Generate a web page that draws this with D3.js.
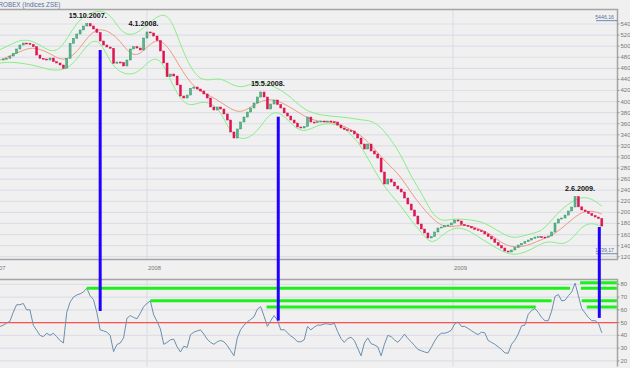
<!DOCTYPE html>
<html>
<head>
<meta charset="utf-8">
<script src="https://cdn.jsdelivr.net/npm/d3@7"></script>
<style>
  body { margin: 0; background: #f0f0f0; }
  svg { display: block; font-family: "Liberation Sans", Arial, sans-serif; }
</style>
</head>
<body>
<svg></svg>
<script>
// ROBEX daily, sampled every 4 days
const startDate = "2007-07-09";
const stepDays = 4;
const closes = [
  4762, 4768, 4781, 4822, 4871, 4949, 5021, 5057, 5052, 5030,
  4990, 4840, 4781, 4768, 4750, 4786, 4720, 4696, 4660, 4600,
  4781, 5052, 5142, 5220, 5292, 5364, 5409, 5364, 5310, 5247,
  5093, 5021, 4985, 4961, 4691, 4714, 4705, 4642, 4750, 4949,
  4990, 4966, 4931, 5147, 5256, 5238, 5183, 5102, 4913, 4696,
  4449, 4497, 4461, 4299, 4100, 4064, 4118, 4239, 4263, 4227,
  4191, 4137, 4064, 3902, 3848, 3902, 3866, 3776, 3667, 3451,
  3342, 3505, 3631, 3721, 3811, 3884, 3974, 4082, 4172, 4082,
  3866, 3956, 4028, 3947, 3884, 3794, 3739, 3667, 3613, 3541,
  3523, 3550, 3721, 3631, 3622, 3636, 3649, 3631, 3649, 3636,
  3631, 3577, 3523, 3496, 3478, 3469, 3415, 3342, 3234, 3144,
  3234, 3108, 3054, 2981, 2729, 2512, 2602, 2548, 2476, 2422,
  2368, 2259, 2151, 2043, 1934, 1790, 1700, 1628, 1538, 1565,
  1646, 1718, 1736, 1763, 1772, 1808, 1862, 1844, 1781, 1763,
  1745, 1718, 1691, 1673, 1651, 1610, 1565, 1520, 1457, 1403,
  1357, 1303, 1285, 1321, 1366, 1411, 1438, 1471, 1501, 1532,
  1555, 1561, 1555, 1550, 1573, 1646, 1808, 1880, 1898, 1952,
  2025, 2097, 2283, 2100, 2043, 2016, 1980, 1943, 1916, 1889,
  1754
];
const rsi = [
  46.9, 48, 49.5, 51, 58, 64, 64, 65, 60, 60,
  48, 44, 40, 39, 41.7, 40, 41.7, 39, 36, 34,
  58, 66, 70, 71.6, 72.5, 74, 76.9, 71, 68, 58,
  44.3, 43.5, 42.5, 40, 27.3, 32.8, 34, 38, 53.4, 55.5,
  54, 53, 57.3, 62.5, 65, 67, 56, 51, 45, 33,
  34.5, 36.5, 37, 31, 27, 31.5, 30.5, 40.5, 42.5, 43.5,
  44.3, 41, 37, 34.5, 33, 35, 36, 35, 32, 28,
  24, 38, 44.5, 48, 50.5, 52.5, 54.5, 60.5, 62.5, 55,
  47, 51.5, 55.5, 52, 44.3, 44.5, 42, 39.5, 37.8, 35,
  35, 36.5, 47, 44.3, 46.5, 48, 48, 49, 49, 48.5,
  49.5, 43, 37.5, 34.5, 37.5, 38.5, 36, 30, 24, 34,
  38, 33.5, 32.5, 31, 24, 33, 40, 39, 36.5, 34.5,
  37.5, 41, 37.5, 35, 32, 29, 28, 27, 26.3, 30.5,
  35.5, 39.5, 41.7, 41.7, 42.5, 44, 49, 50.5, 47, 47,
  45.5, 43.7, 42, 40.6, 42.5, 42, 36, 34.5, 33, 31,
  29, 26.3, 26, 33, 36.2, 41, 47.5, 48, 56.5, 59.5,
  61, 58, 54, 51.5, 51.5, 59, 70.5, 72, 67, 67.5,
  71, 74, 80.9, 71, 61, 57.5, 54, 51.5, 51.5, 49.5,
  42
];

// Bollinger bands, sampled every 12 days
const bandStep = 12;
const upperBand = [
  4936, 5021, 5111, 5111, 5021, 4900, 4931, 5232, 5503, 5593,
  5650, 5580, 5274, 5183, 5274, 5436, 5580, 5544, 5021, 4606,
  4389, 4389, 4425, 4317, 4245, 4317, 4358, 4299, 4209, 4082,
  3902, 3803, 3757, 3739, 3721, 3703, 3667, 3658, 3541, 3306,
  3036, 2638, 2368, 1989, 1832, 1880, 1880, 1862, 1832, 1741,
  1627, 1537, 1561, 1622, 1655, 1862, 2061, 2192, 2283, 2250,
  2115
];
const middleBand = [
  4750, 4822, 4900, 4976, 4949, 4868, 4750, 4777, 4967, 5229,
  5319, 5256, 5093, 4840, 4840, 5057, 5129, 4931, 4606, 4335,
  4178, 4100, 3992, 3866, 3794, 3902, 4010, 4046, 3992, 3893,
  3776, 3676, 3636, 3636, 3577, 3496, 3387, 3216, 3000, 2819,
  2638, 2350, 2115, 1907, 1754, 1736, 1772, 1754, 1691, 1592,
  1447, 1375, 1375, 1429, 1510, 1582, 1709, 1871, 2007, 2034,
  1970
];
const lowerBand = [
  4696, 4714, 4696, 4669, 4624, 4570, 4561, 4624, 4840, 5093,
  5111, 4696, 4525, 4479, 4552, 4768, 4786, 4389, 4028, 3911,
  3997, 3983, 3830, 3433, 3315, 3351, 3546, 3811, 3803, 3604,
  3451, 3505, 3595, 3608, 3559, 3415, 3198, 2873, 2548, 2313,
  2115, 1844, 1646, 1411, 1573, 1709, 1727, 1646, 1520, 1411,
  1303, 1230, 1258, 1330, 1447, 1483, 1411, 1501, 1754, 1817,
  1745
];

const priceTicks = [5400, 5200, 5000, 4800, 4600, 4400, 4200, 4000, 3800, 3600, 3400,
  3200, 3000, 2800, 2600, 2400, 2200, 2000, 1800, 1600, 1400, 1200];
const rsiTicks = [80, 70, 60, 50, 40, 30, 20];
const years = ["2007", "2008", "2009"];
const priceMax = 5446.16, priceMin = 1239.17;

const peaks = [
  { label: "15.10.2007.", date: "2007-10-15", value: 5409 },
  { label: "4.1.2008.", date: "2008-01-04", value: 5256 },
  { label: "15.5.2008.", date: "2008-05-15", value: 4172 },
  { label: "2.6.2009.", date: "2009-06-02", value: 2283 }
];
// blue signal lines: top on the price, bottom on the RSI
const signals = [
  { date: "2007-11-06", price: 4931, rsi: 59.1 },
  { date: "2008-06-06", price: 3727, rsi: 51.6 },
  { date: "2009-06-25", price: 1736, rsi: 53.7 }
];
// green RSI levels
const levels = [
  { from: "2007-10-21", to: "2009-05-21", value: 76.9 },
  { from: "2008-01-05", to: "2009-04-29", value: 67.2 },
  { from: "2008-05-23", to: "2009-04-10", value: 62.2 },
  { from: "2009-06-02", to: "2009-07-16", value: 81.2 },
  { from: "2009-06-03", to: "2009-07-16", value: 76.9 },
  { from: "2009-06-04", to: "2009-07-16", value: 67.2 },
  { from: "2009-06-10", to: "2009-07-16", value: 62.2 }
];

const W = 630, H = 368;
const right = 617.5;
const main = { top: 9.5, bottom: 259.5 };
const low = { top: 279.5, bottom: 366.5 };

const parse = d3.timeParse("%Y-%m-%d");
const t0 = parse(startDate);
const dates = closes.map((d, i) => d3.timeDay.offset(t0, i * stepDays));
const bandDates = upperBand.map((d, i) => d3.timeDay.offset(t0, i * bandStep));

const svg = d3.select("svg").attr("width", W).attr("height", H);

const x = d3.scaleTime()
  .domain([new Date(2008, 0, 1), new Date(2009, 0, 1)])
  .range([147, 453]);
const y = d3.scaleLinear().domain([1200, 5400]).range([256.7, 24]);
const yr = d3.scaleLinear().domain([20, 80]).range([360.9, 284.3]);

svg.append("rect").attr("width", W).attr("height", H).attr("fill", "#f0f0f0");

svg.append("defs").append("clipPath").attr("id", "clipMain")
  .append("rect").attr("x", 0).attr("y", main.top).attr("width", right).attr("height", main.bottom - main.top);

// grid
const grid = svg.append("g").attr("stroke", "#dedee9").attr("stroke-width", 1.2);
grid.selectAll(".gp").data(priceTicks).join("line")
  .attr("x1", 0).attr("x2", right)
  .attr("y1", d => y(d)).attr("y2", d => y(d));
grid.selectAll(".gr").data(rsiTicks).join("line")
  .attr("x1", 0).attr("x2", right)
  .attr("y1", d => yr(d)).attr("y2", d => yr(d));
const yearStarts = [new Date(2008, 0, 1), new Date(2009, 0, 1)];
yearStarts.forEach(d => {
  grid.append("line").attr("x1", x(d)).attr("x2", x(d)).attr("y1", main.top).attr("y2", main.bottom);
  grid.append("line").attr("x1", x(d)).attr("x2", x(d)).attr("y1", low.top).attr("y2", low.bottom);
});

const plot = svg.append("g").attr("clip-path", "url(#clipMain)");

// bands and moving average
const bandLine = arr => d3.line()
  .x((d, i) => x(bandDates[i]))
  .y(d => y(d))
  .curve(d3.curveBasis)(arr);
plot.append("path").attr("d", bandLine(upperBand)).attr("fill", "none").attr("stroke", "#86ee86").attr("stroke-width", 1);
plot.append("path").attr("d", bandLine(lowerBand)).attr("fill", "none").attr("stroke", "#86ee86").attr("stroke-width", 1);
plot.append("path").attr("d", bandLine(middleBand)).attr("fill", "none").attr("stroke", "#eb9a80").attr("stroke-width", 1);

// candles (open = previous close)
const candles = closes.slice(1).map((c, i) => ({ date: dates[i + 1], open: closes[i], close: c }));
plot.selectAll(".candle").data(candles).join("rect")
  .attr("class", "candle")
  .attr("x", d => x(d.date) - 1)
  .attr("width", 2)
  .attr("y", d => y(Math.max(d.open, d.close)))
  .attr("height", d => Math.max(1, Math.abs(y(d.open) - y(d.close))))
  .attr("fill", d => d.close < d.open ? "#de1452" : "#5fb48a")
  .attr("stroke", d => d.close < d.open ? "#de1452" : "#2f9a66")
  .attr("stroke-width", 0.5);

// peak annotations
const labelDx = [6, -6, 8, 0];
svg.selectAll(".peak").data(peaks).join("text")
  .attr("x", (d, i) => x(parse(d.date)) + labelDx[i])
  .attr("y", d => y(d.value) - 6)
  .attr("text-anchor", "middle")
  .attr("font-size", 7.2).attr("font-weight", "bold").attr("fill", "#111")
  .text(d => d.label);

// frames
const frame = svg.append("g").attr("stroke", "#a4a4a4").attr("stroke-width", 1.5).attr("fill", "none");
frame.append("path").attr("d", `M0,${main.top}H${right}V${main.bottom}H0`);
frame.append("path").attr("d", `M0,${low.top}H${right}V${low.bottom}`);

// right axis
const ax = svg.append("g").attr("font-size", 6).attr("fill", "#777");
ax.selectAll(".tp").data(priceTicks).join("text")
  .attr("x", right + 3).attr("y", d => y(d) + 2).text(d => d);
ax.selectAll(".tr").data(rsiTicks).join("text")
  .attr("x", right + 3).attr("y", d => yr(d) + 2).text(d => d);
svg.append("g").attr("stroke", "#999").selectAll("line").data(priceTicks).join("line")
  .attr("x1", right).attr("x2", right + 2).attr("y1", d => y(d)).attr("y2", d => y(d));
svg.append("g").attr("stroke", "#999").selectAll("line").data(rsiTicks).join("line")
  .attr("x1", right).attr("x2", right + 2).attr("y1", d => yr(d)).attr("y2", d => yr(d));

// year labels
ax.selectAll(".yl").data(years).join("text")
  .attr("x", (d, i) => i === 0 ? -7.5 : x(new Date(+d, 0, 1)) + 1)
  .attr("y", 269.5).attr("font-size", 5.8)
  .text(d => d);

// title
svg.append("text").attr("x", -1.5).attr("y", 7.3)
  .attr("font-size", 6.3).attr("fill", "#56709a").text("ROBEX (Indices ZSE)");

// max / min markers
[priceMax, priceMin].forEach(v => {
  svg.append("text").attr("x", 614).attr("y", y(v) - 2.2)
    .attr("text-anchor", "end").attr("font-size", 5.2).attr("fill", "#56709a")
    .text(d3.format(".2f")(v).replace(".", ","));
  svg.append("line").attr("x1", 596).attr("x2", right).attr("y1", y(v) - 0.8).attr("y2", y(v) - 0.8)
    .attr("stroke", "#56709a").attr("stroke-width", 0.8);
});

// RSI panel
svg.append("line").attr("x1", 0).attr("x2", right).attr("y1", yr(50)).attr("y2", yr(50))
  .attr("stroke", "#ff4f4f").attr("stroke-width", 1.4);
svg.append("path")
  .attr("d", d3.line().x((d, i) => x(dates[i])).y(d => yr(d))(rsi))
  .attr("fill", "none").attr("stroke", "#6b8fae").attr("stroke-width", 1);

svg.selectAll(".lvl").data(levels).join("line")
  .attr("x1", d => x(parse(d.from))).attr("x2", d => x(parse(d.to)))
  .attr("y1", d => yr(d.value)).attr("y2", d => yr(d.value))
  .attr("stroke", "#1ef01e").attr("stroke-width", 3);

svg.selectAll(".sig").data(signals).join("line")
  .attr("x1", d => x(parse(d.date))).attr("x2", d => x(parse(d.date)))
  .attr("y1", d => y(d.price)).attr("y2", d => yr(d.rsi))
  .attr("stroke", "#2200ff").attr("stroke-width", 3);
</script>
</body>
</html>
